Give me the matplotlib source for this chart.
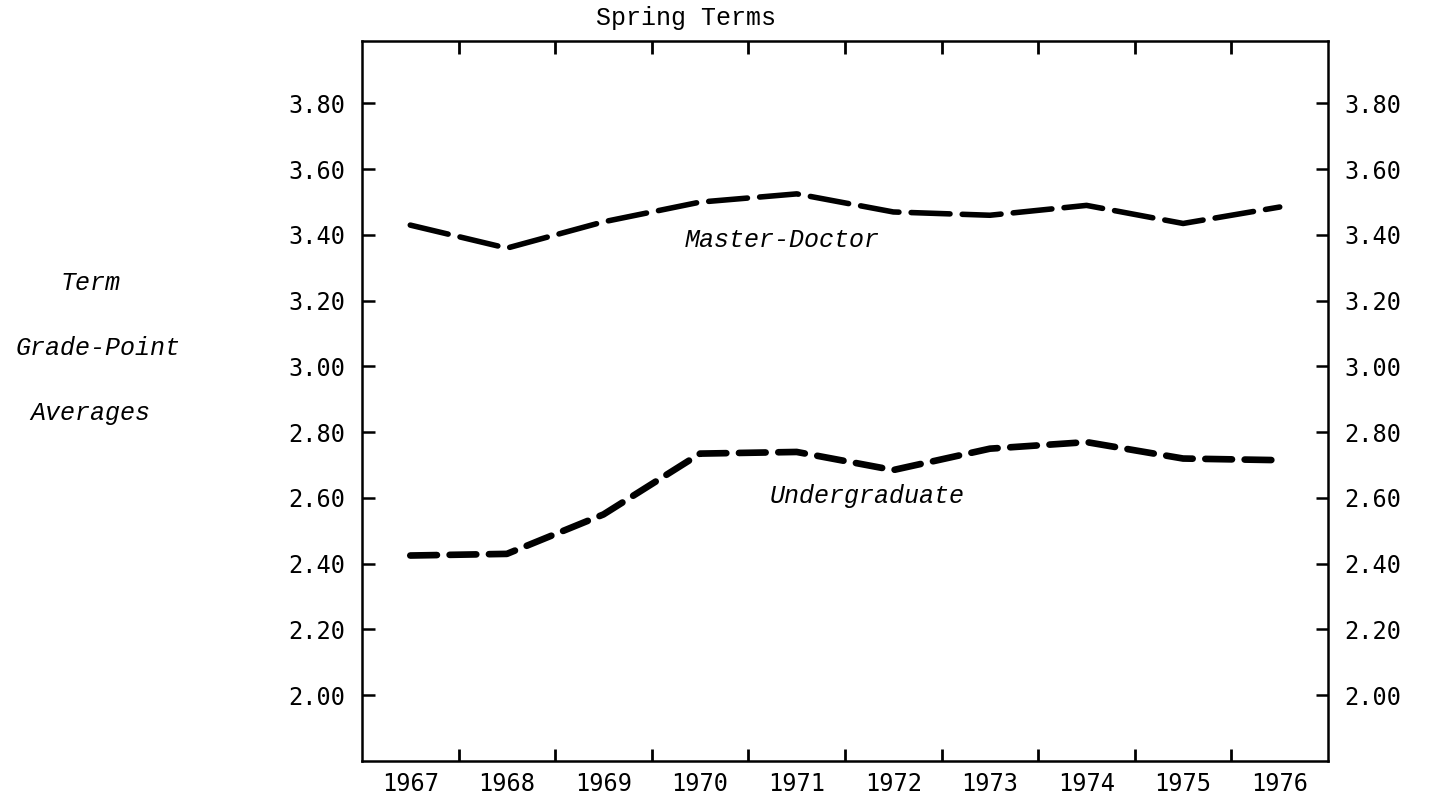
# spring term grade-point averages, 1967-1976
import numpy as np
import matplotlib.pyplot as plt
from matplotlib.ticker import FixedLocator, FormatStrFormatter

# data
years = [1967, 1968, 1969, 1970, 1971, 1972, 1973, 1974, 1975, 1976]
master_doctor = [3.43, 3.36, 3.44, 3.50, 3.525, 3.47, 3.46, 3.49, 3.435, 3.485]
undergraduate = [2.425, 2.43, 2.55, 2.735, 2.74, 2.685, 2.75, 2.77, 2.72, 2.715]
y_ticks = [2.00, 2.20, 2.40, 2.60, 2.80, 3.00, 3.20, 3.40, 3.60, 3.80]

typewriter = "Liberation Mono"
tick_font = "DejaVu Sans Mono"

fig = plt.figure(figsize=(14.41, 8), dpi=100)
ax = fig.add_axes([0.2512, 0.04875, 0.6704, 0.90])

ax.plot(years, master_doctor, color="black", lw=4.0,
        dashes=(7.0, 2.2), dash_capstyle="round", solid_capstyle="round")
ax.plot(years, undergraduate, color="black", lw=4.8,
        dashes=(4.0, 1.9), dash_capstyle="round", solid_capstyle="round")

ax.set_xlim(1966.5, 1976.5)
ax.set_ylim(1.80, 3.99)

# year labels sit between the tick marks
ax.xaxis.set_major_locator(FixedLocator(years))
ax.xaxis.set_minor_locator(FixedLocator([y + 0.5 for y in years[:-1]]))
ax.tick_params(axis="x", which="major", length=0, pad=8)
ax.tick_params(axis="x", which="minor", direction="in", length=9, width=2,
               top=True, bottom=True)

ax.yaxis.set_major_locator(FixedLocator(y_ticks))
ax.yaxis.set_major_formatter(FormatStrFormatter("%.2f"))
ax.tick_params(axis="y", which="major", direction="in", length=9, width=1.8,
               left=True, right=True, labelleft=True, labelright=True, pad=12)
for lab in ax.get_xticklabels():
    lab.set_fontfamily(tick_font)
    lab.set_fontsize(17)
for t in ax.yaxis.get_major_ticks():
    for lab in (t.label1, t.label2):
        lab.set_fontfamily(tick_font)
        lab.set_fontsize(17)

for s in ax.spines.values():
    s.set_linewidth(1.8)

ax.text(0.335, 1.015, "Spring Terms", transform=ax.transAxes,
        fontfamily=typewriter, fontsize=18, ha="center", va="bottom")
ax.text(1970.85, 3.385, "Master-Doctor", fontfamily=typewriter,
        fontstyle="italic", fontsize=18, ha="center", va="center")
ax.text(1971.73, 2.605, "Undergraduate", fontfamily=typewriter,
        fontstyle="italic", fontsize=18, ha="center", va="center")

fig.text(91 / 1441, 1 - 283 / 800, "Term", fontfamily=typewriter,
         fontstyle="italic", fontsize=18, ha="center", va="center")
fig.text(98 / 1441, 1 - 348 / 800, "Grade-Point", fontfamily=typewriter,
         fontstyle="italic", fontsize=18, ha="center", va="center")
fig.text(90 / 1441, 1 - 413 / 800, "Averages", fontfamily=typewriter,
         fontstyle="italic", fontsize=18, ha="center", va="center")

plt.savefig("out.png", dpi=100)
